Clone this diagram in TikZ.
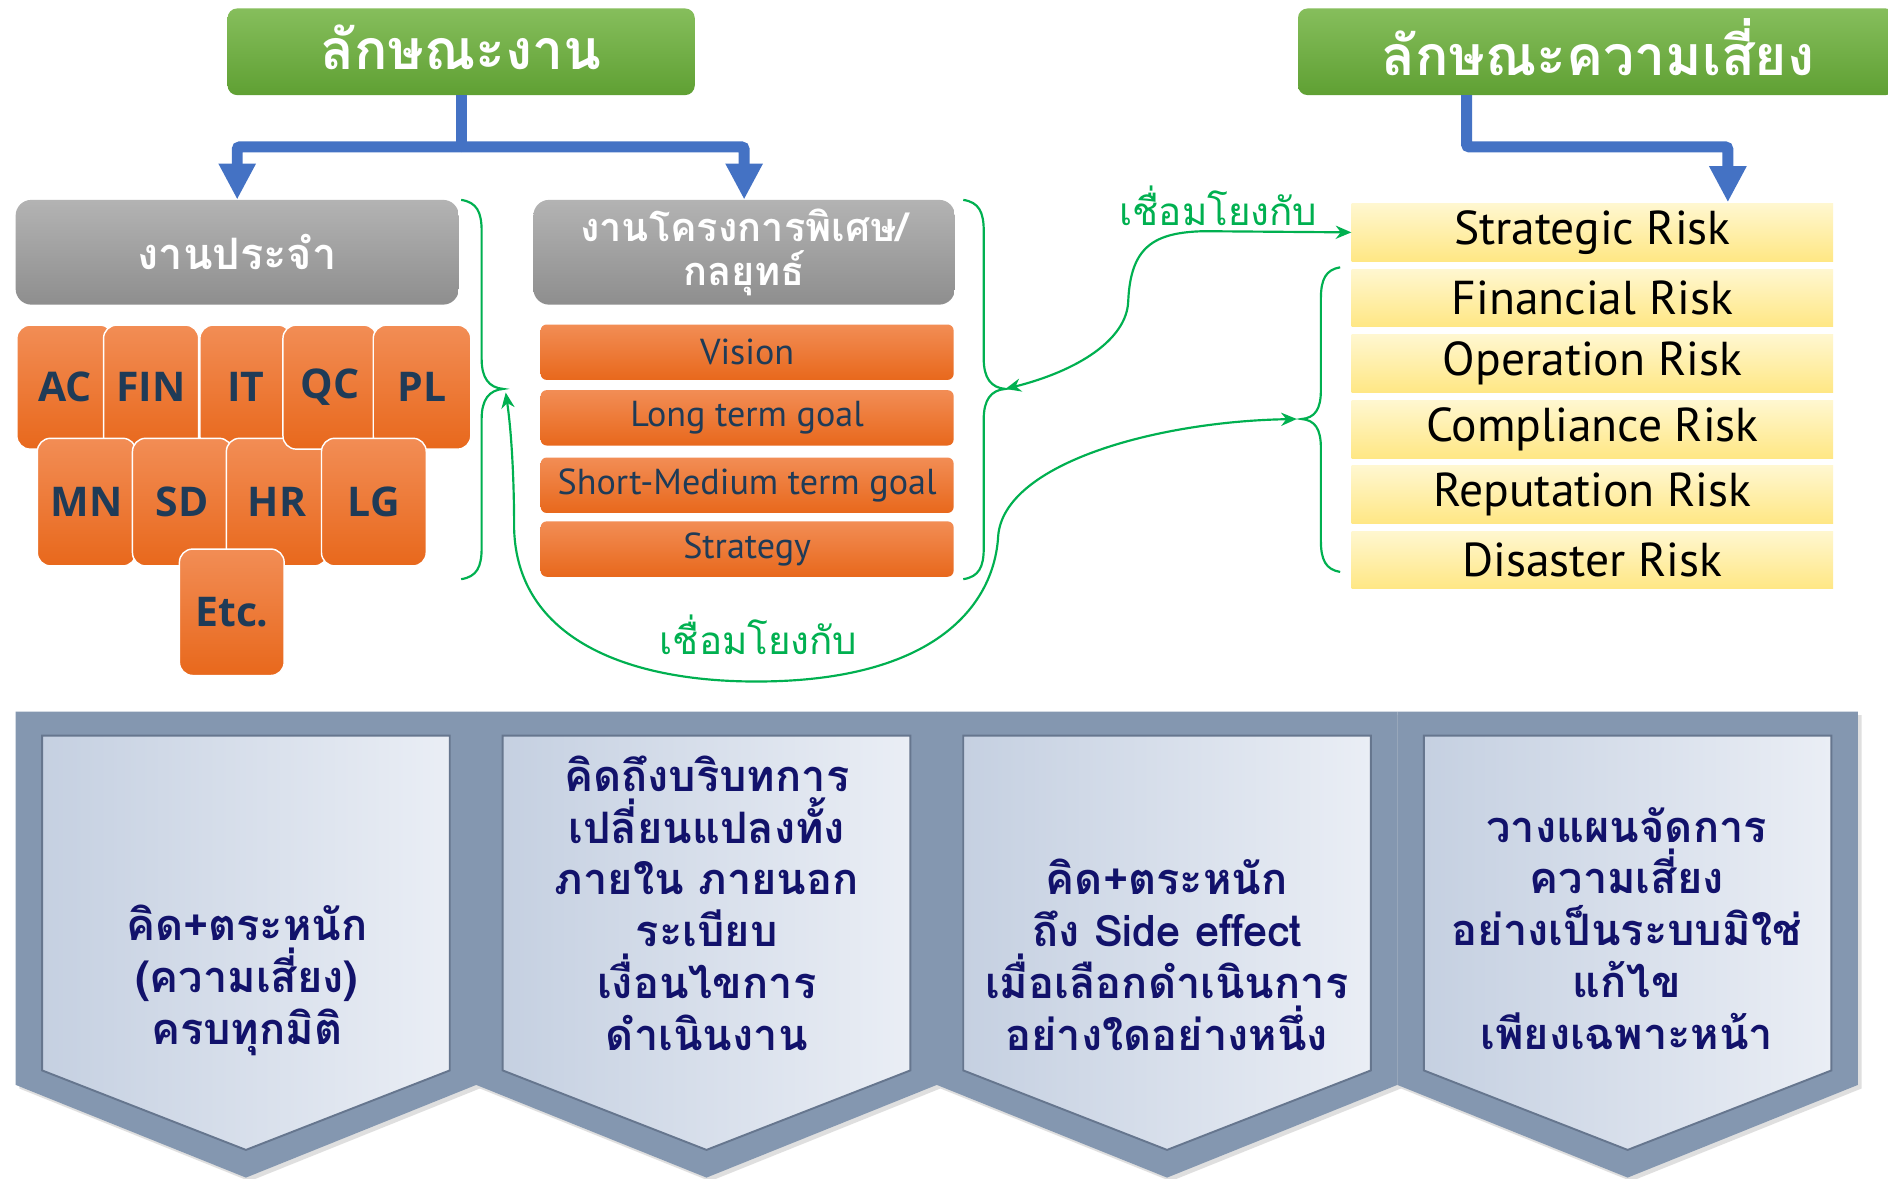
\documentclass[tikz,border=0pt]{standalone}
\usepackage{fontspec}
\setmainfont{PT Sans}
\newfontfamily\thai[Script=Thai]{Loma}
\newfontfamily\latb{Open Sans}
\usetikzlibrary{arrows.meta,calc,shadows}
\definecolor{gtop}{HTML}{86BE5C}
\definecolor{gbot}{HTML}{5FA033}
\definecolor{barblue}{HTML}{4472C4}
\definecolor{graytop}{HTML}{B3B3B3}
\definecolor{graybot}{HTML}{8E8E8E}
\definecolor{orgtop}{HTML}{F28D55}
\definecolor{orgbot}{HTML}{E8681C}
\definecolor{navy}{HTML}{1F3B57}
\definecolor{linkgreen}{HTML}{00B050}
\definecolor{yeltop}{HTML}{FFF7D0}
\definecolor{yelbot}{HTML}{FFE784}
\definecolor{panelout}{HTML}{8497B0}
\definecolor{panell}{HTML}{C5D0E1}
\definecolor{panelr}{HTML}{EAEEF5}
\definecolor{paneltext}{HTML}{12126B}
\definecolor{panelshadow}{HTML}{66768E}
\tikzset{
  titlebox/.style={rectangle, rounded corners=8pt, top color=gtop, bottom color=gbot, inner sep=0pt},
  titletext/.style={text=white, font=\thai\bfseries\fontsize{46}{50}\selectfont, inner sep=0pt},
  graybox/.style={rectangle, rounded corners=13pt, top color=graytop, bottom color=graybot,
    text=white, font=\thai\bfseries\fontsize{36}{36}\selectfont, align=center, inner sep=0pt},
  orgbox/.style={rectangle, rounded corners=11pt, top color=orgtop, bottom color=orgbot,
    draw=white, line width=1.2pt, text=navy, font=\latb\bfseries\fontsize{34}{34}\selectfont, inner sep=0pt},
  orgbar/.style={rectangle, rounded corners=5pt, top color=orgtop, bottom color=orgbot,
    minimum width=343pt, minimum height=46pt, text=navy, font=\fontsize{30}{30}\selectfont, inner sep=0pt},
  riskbox/.style={rectangle, top color=yeltop, bottom color=yelbot,
    minimum width=400pt, minimum height=48pt, text=black, font=\fontsize{39.5}{39.5}\selectfont, inner sep=0pt},
  bluearrow/.style={draw=barblue, line width=9pt, rounded corners=2pt},
  bluetip/.style={-{Triangle[length=30pt,width=29pt]}},
  greenline/.style={draw=linkgreen, line width=1.8pt},
  greenarrow/.style={draw=linkgreen, line width=1.8pt, {Stealth[length=13pt,width=11pt]}-{Stealth[length=13pt,width=11pt]}},
  linktext/.style={text=linkgreen, font=\thai\fontsize{32}{32}\selectfont, inner sep=0pt},
  paneltxt/.style={text=paneltext, font=\thai\bfseries\fontsize{36}{43}\selectfont, align=center, inner sep=0pt}
}
\begin{document}
\begin{tikzpicture}[x=1pt,y=-1pt]
\useasboundingbox (0,0) rectangle (1568,979);
\fill[white] (0,0) rectangle (1568,979);

% titles
\node[titlebox, minimum width=388pt, minimum height=72pt] (t1) at (383,43) {};
\node[titletext] (t1l) at (383,39) {ลักษณะงาน};
\node[titlebox, minimum width=496pt, minimum height=72pt] (t2) at (1326,43) {};
\node[titletext] (t2l) at (1327,39) {ลักษณะความเสี่ยง};

% gray headers
\node[graybox, minimum width=368pt, minimum height=87pt] (g1) at (197,209.5) {งานประจำ};
\node[graybox, minimum width=350pt, minimum height=87pt, font=\thai\bfseries\fontsize{33}{36}\selectfont] (g2) at (618,209.5) {งานโครงการพิเศษ/\\กลยุทธ์};

% blue connectors
\coordinate (j1) at (383,122);
\draw[bluearrow] (t1.south) -- (j1);
\draw[bluearrow, bluetip] (j1) -| (g1.north);
\draw[bluearrow, bluetip] (j1) -| (g2.north);
\coordinate (s2) at (1218,79);
\coordinate (j2) at (1218,122);
\coordinate (e2) at (1435,168);
\draw[bluearrow, bluetip] (s2) -- (j2) -| (e2);

% routine boxes
\node[orgbox, minimum width=80pt, minimum height=103pt] (ac) at (54,321.5) {AC};
\node[orgbox, minimum width=79pt, minimum height=103pt] (fin) at (125.5,321.5) {FIN};
\node[orgbox, minimum width=76pt, minimum height=103pt] (it) at (204,321.5) {IT};
\node[orgbox, minimum width=82pt, minimum height=106pt] (mn) at (72,417) {MN};
\node[orgbox, minimum width=83pt, minimum height=106pt] (sd) at (151.5,417) {SD};
\node[orgbox, minimum width=84pt, minimum height=106pt] (hr) at (230,417) {HR};
\node[orgbox, minimum width=78pt, minimum height=103pt] (qc) at (274,321.5) {QC};
\node[orgbox, minimum width=81pt, minimum height=103pt] (pl) at (350.5,321.5) {PL};
\node[orgbox, minimum width=87pt, minimum height=106pt] (lg) at (310.5,417) {LG};
\node[orgbox, minimum width=87pt, minimum height=105pt] (etc) at (192.5,508.5) {Etc\kern-1pt.};

% project bars
\node[orgbar] (vis) at (620.5,292.5) {Vision};
\node[orgbar] (ltg) at (620.5,347) {Long term goal};
\node[orgbar] (smg) at (620.5,403) {Short-Medium term goal};
\node[orgbar] (str) at (620.5,456) {Strategy};

% risk boxes
\node[riskbox] (r1) at (1322.5,193) {Strategic Risk};
\node[riskbox] (r2) at (1322.5,247.5) {Financial Risk};
\node[riskbox] (r3) at (1322.5,302) {Operation Risk};
\node[riskbox] (r4) at (1322.5,356.5) {Compliance Risk};
\node[riskbox] (r5) at (1322.5,411) {Reputation Risk};
\node[riskbox] (r6) at (1322.5,465) {Disaster Risk};

% braces
\coordinate (c1) at (418,323);
\coordinate (c2) at (835,323);
\coordinate (c3) at (1081,348);
\draw[greenline] (383,166) .. controls (396,168) and (400,176) .. (400,192) -- (400,298)
  .. controls (400,314) and (406,322) .. (c1) .. controls (406,324) and (400,332) .. (400,348)
  -- (400,455) .. controls (400,471) and (396,479) .. (383,481);
\draw[greenline] (800,166) .. controls (813,168) and (817,176) .. (817,192) -- (817,298)
  .. controls (817,314) and (823,322) .. (c2) .. controls (823,324) and (817,332) .. (817,348)
  -- (817,455) .. controls (817,471) and (813,479) .. (800,481);
\draw[greenline] (1113,222) .. controls (1101,224) and (1097,232) .. (1097,248) -- (1097,324)
  .. controls (1097,340) and (1092,347) .. (c3) .. controls (1092,349) and (1097,356) .. (1097,372)
  -- (1097,449) .. controls (1097,465) and (1101,473) .. (1113,475);

% link arrows
\draw[greenarrow] (c2) .. controls (895,308) and (936,282) .. (937,250)
  .. controls (939,205) and (958,193) .. (1000,192) -- (r1.west);
\draw[greenarrow] ($(c1)+(2,3)$) .. controls (425,360) and (427,400) .. (427,440)
  .. controls (430,530) and (520,566) .. (628,566)
  .. controls (780,566) and (826,500) .. (829,445)
  .. controls (834,385) and (960,350) .. ($(c3)+(-4,0)$);
\node[linktext] (lk1) at (1012,171) {เชื่อมโยงกับ};
\node[linktext] (lk2) at (630,527) {เชื่อมโยงกับ};

% bottom panels
\foreach \i in {0,1,2,3} {
  \pgfmathsetmacro{\xa}{13+382.5*\i}
  \pgfmathsetmacro{\xb}{\xa+382.5}
  \pgfmathsetmacro{\xc}{\xa+191.25}
  \fill[panelout, drop shadow={shadow xshift=3pt, shadow yshift=-3pt, opacity=0.25}]
    (\xa,591) -- (\xb,591) -- (\xb,901) -- (\xc,978) -- (\xa,901) -- cycle;
  \path[left color=panell, right color=panelr, draw=panelshadow, line width=1.6pt]
    (\xa+22,611) -- (\xb-22,611) -- (\xb-22,889) -- (\xc,955) -- (\xa+22,889) -- cycle;
}
\node[paneltxt] (p1) at (205,814) {คิด+ตระหนัก\\(ความเสี่ยง)\\ครบทุกมิติ};
\node[paneltxt] (p2) at (587,750) {คิดถึงบริบทการ\\เปลี่ยนแปลงทั้ง\\ภายใน ภายนอก\\ระเบียบ\\เงื่อนไขการ\\ดำเนินงาน};
\node[paneltxt] (p3) at (969,793) {คิด+ตระหนัก\\ถึง Side effect\\เมื่อเลือกดำเนินการ\\อย่างใดอย่างหนึ่ง};
\node[paneltxt] (p4) at (1351,771) {วางแผนจัดการ\\ความเสี่ยง\\อย่างเป็นระบบมิใช่\\แก้ไข\\เพียงเฉพาะหน้า};
\end{tikzpicture}
\end{document}
